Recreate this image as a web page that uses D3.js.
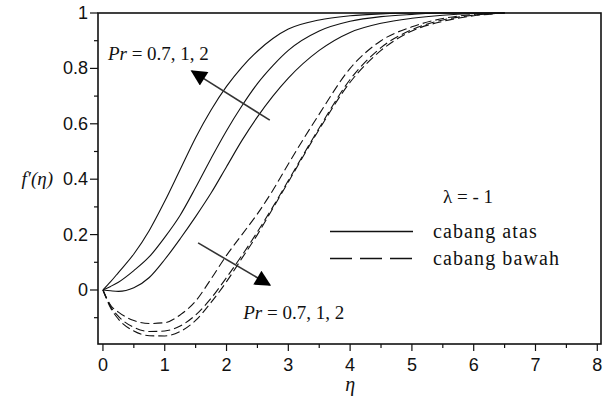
<!DOCTYPE html>
<html>
<head>
<meta charset="utf-8">
<script src="https://cdn.jsdelivr.net/npm/d3@7"></script>
<style>
  body { margin: 0; background: #fff; }
  svg { display: block; }
  .tick-label { font-family: "Liberation Sans", Arial, sans-serif; font-size: 18px; fill: #111; }
  .serif { font-family: "Liberation Serif", "Times New Roman", serif; fill: #111; }
</style>
</head>
<body>
<div id="viz"></div>
<script>
// ====================
// DATA
// ====================
const etaValues = [0, 0.125, 0.25, 0.5, 0.75, 1, 1.25, 1.5, 1.75, 2, 2.25, 2.5, 2.75, 3, 3.5, 4, 4.5, 5, 5.5, 6, 6.5];

// upper branch (solid), Pr = 0.7, 1, 2
const upperPr07 = [0, 0.03, 0.063, 0.13, 0.215, 0.32, 0.435, 0.55, 0.65, 0.735, 0.805, 0.862, 0.908, 0.942, 0.975, 0.99, 0.997, 1, 1, 1, 1];
const upperPr1  = [0, 0.013, 0.028, 0.07, 0.12, 0.19, 0.27, 0.37, 0.475, 0.575, 0.665, 0.745, 0.81, 0.865, 0.935, 0.97, 0.987, 0.995, 1, 1, 1];
const upperPr2  = [0, -0.003, -0.005, 0.008, 0.045, 0.11, 0.185, 0.265, 0.35, 0.445, 0.54, 0.625, 0.7, 0.765, 0.865, 0.93, 0.963, 0.981, 0.992, 0.998, 1];

// lower branch (dashed), Pr = 0.7, 1, 2
const lowerPr07 = [0, -0.055, -0.08, -0.11, -0.121, -0.118, -0.09, -0.04, 0.04, 0.125, 0.2, 0.275, 0.36, 0.455, 0.635, 0.8, 0.9, 0.95, 0.98, 0.995, 1];
const lowerPr1  = [0, -0.06, -0.095, -0.135, -0.15, -0.148, -0.13, -0.09, -0.03, 0.045, 0.125, 0.21, 0.3, 0.395, 0.585, 0.76, 0.875, 0.94, 0.975, 0.992, 1];
const lowerPr2  = [0, -0.065, -0.105, -0.148, -0.165, -0.166, -0.15, -0.11, -0.045, 0.03, 0.115, 0.2, 0.295, 0.39, 0.58, 0.75, 0.865, 0.935, 0.97, 0.99, 1];

const xTicks = [0, 1, 2, 3, 4, 5, 6, 7, 8];
const yTicks = [0, 0.2, 0.4, 0.6, 0.8, 1];
const yTickLabels = ['0', '0.2', '0.4', '0.6', '0.8', '1'];

// ====================
// SETUP
// ====================
const width = 605;
const height = 401;

const x = d3.scaleLinear().domain([-0.08, 8.06]).range([98, 601]);
const y = d3.scaleLinear().domain([-0.195, 1]).range([344, 13]);

const svg = d3.select('#viz').append('svg')
  .attr('width', width)
  .attr('height', height);

// ====================
// CURVES
// ====================
const line = d3.line()
  .x(d => x(d[0]))
  .y(d => y(d[1]))
  .curve(d3.curveMonotoneX);

const series = [
  { values: upperPr07, dash: null },
  { values: upperPr1, dash: null },
  { values: upperPr2, dash: null },
  { values: lowerPr07, dash: '9,4' },
  { values: lowerPr1, dash: '9,4' },
  { values: lowerPr2, dash: '9,4' }
];

svg.append('g').selectAll('path')
  .data(series)
  .join('path')
  .attr('d', s => line(etaValues.map((e, i) => [e, s.values[i]])))
  .attr('fill', 'none')
  .attr('stroke', '#111')
  .attr('stroke-width', 1.1)
  .attr('stroke-dasharray', s => s.dash);

// ====================
// FRAME & AXES
// ====================
const [x0, x1] = x.range();
const [y0, y1] = y.range();

svg.append('rect')
  .attr('x', x0).attr('y', y1)
  .attr('width', x1 - x0).attr('height', y0 - y1)
  .attr('fill', 'none')
  .attr('stroke', '#111')
  .attr('stroke-width', 1.6);

// x ticks (major + minor at 0.5)
const xMinor = d3.range(0.5, 8, 1);
svg.append('g').selectAll('line.maj')
  .data(xTicks).join('line')
  .attr('x1', d => x(d)).attr('x2', d => x(d))
  .attr('y1', y0).attr('y2', y0 + 7)
  .attr('stroke', '#111').attr('stroke-width', 1.2);
svg.append('g').selectAll('line.min')
  .data(xMinor).join('line')
  .attr('x1', d => x(d)).attr('x2', d => x(d))
  .attr('y1', y0).attr('y2', y0 + 4)
  .attr('stroke', '#111').attr('stroke-width', 1.2);
svg.append('g').selectAll('text')
  .data(xTicks).join('text')
  .attr('class', 'tick-label')
  .attr('x', d => x(d))
  .attr('y', y0 + 27)
  .attr('text-anchor', 'middle')
  .text(d => d);

// y ticks (major + minor at 0.1)
const yMinor = [-0.1, 0.1, 0.3, 0.5, 0.7, 0.9];
svg.append('g').selectAll('line.maj')
  .data(yTicks).join('line')
  .attr('x1', x0 - 8).attr('x2', x0)
  .attr('y1', d => y(d)).attr('y2', d => y(d))
  .attr('stroke', '#111').attr('stroke-width', 1.2);
svg.append('g').selectAll('line.min')
  .data(yMinor).join('line')
  .attr('x1', x0 - 4).attr('x2', x0)
  .attr('y1', d => y(d)).attr('y2', d => y(d))
  .attr('stroke', '#111').attr('stroke-width', 1.2);
svg.append('g').selectAll('text')
  .data(yTicks).join('text')
  .attr('class', 'tick-label')
  .attr('x', x0 - 10)
  .attr('y', d => y(d) + 6)
  .attr('text-anchor', 'end')
  .text((d, i) => yTickLabels[i]);

// axis titles
svg.append('text')
  .attr('class', 'serif')
  .attr('x', 53).attr('y', y(0.4) + 6)
  .attr('text-anchor', 'end')
  .attr('font-size', 19)
  .attr('font-style', 'italic')
  .text('f\u2032(\u03b7)');

svg.append('text')
  .attr('class', 'serif')
  .attr('x', x(4)).attr('y', 391)
  .attr('text-anchor', 'middle')
  .attr('font-size', 20)
  .attr('font-style', 'italic')
  .text('\u03b7');

// ====================
// ARROWS & ANNOTATIONS
// ====================
svg.append('defs').append('marker')
  .attr('id', 'head')
  .attr('viewBox', '0 0 10 10')
  .attr('refX', 9).attr('refY', 5)
  .attr('markerWidth', 19).attr('markerHeight', 16)
  .attr('markerUnits', 'userSpaceOnUse')
  .attr('orient', 'auto')
  .append('path')
  .attr('d', 'M0,0 L10,5 L0,10 Z')
  .attr('fill', '#000');

const arrows = [
  { from: [2.70, 0.613], to: [1.44, 0.79] },
  { from: [1.54, 0.17], to: [2.70, 0.018] }
];
svg.append('g').selectAll('line')
  .data(arrows).join('line')
  .attr('x1', d => x(d.from[0])).attr('y1', d => y(d.from[1]))
  .attr('x2', d => x(d.to[0])).attr('y2', d => y(d.to[1]))
  .attr('stroke', '#333')
  .attr('stroke-width', 1.6)
  .attr('marker-end', 'url(#head)');

const prLabels = [[0.08, 0.83], [2.27, -0.105]];
prLabels.forEach(p => {
  const t = svg.append('text')
    .attr('class', 'serif')
    .attr('x', x(p[0])).attr('y', y(p[1]))
    .attr('font-size', 19);
  t.append('tspan').attr('font-style', 'italic').text('Pr');
  t.append('tspan').text(' = 0.7, 1, 2');
});

// ====================
// LEGEND
// ====================
svg.append('text')
  .attr('class', 'serif')
  .attr('x', 443).attr('y', 203)
  .attr('font-size', 19)
  .text('\u03bb = - 1');

const legend = [
  { label: 'cabang atas', dash: null, yPos: 231.5 },
  { label: 'cabang bawah', dash: '22,8', yPos: 258.5 }
];
const lg = svg.append('g');
lg.selectAll('line')
  .data(legend).join('line')
  .attr('x1', 330).attr('x2', 413)
  .attr('y1', d => d.yPos).attr('y2', d => d.yPos)
  .attr('stroke', '#111')
  .attr('stroke-width', 1.5)
  .attr('stroke-dasharray', d => d.dash);
lg.selectAll('text')
  .data(legend).join('text')
  .attr('class', 'serif')
  .attr('x', 433)
  .attr('y', d => d.yPos + 6)
  .attr('font-size', 20)
  .attr('letter-spacing', 1.1)
  .text(d => d.label);
</script>
</body>
</html>
